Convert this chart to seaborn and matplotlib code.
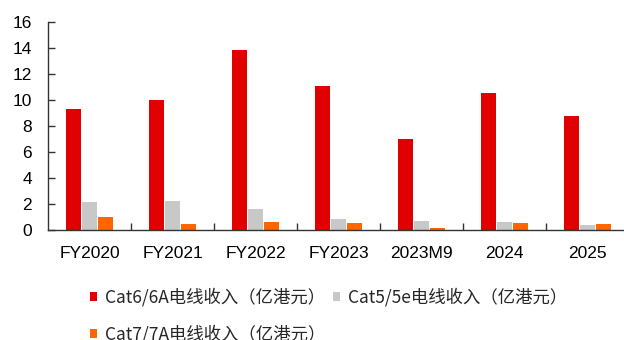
import matplotlib
matplotlib.use("Agg")
import matplotlib.pyplot as plt
import seaborn as sns
import pandas as pd
from matplotlib.patches import Patch

categories = ["FY2020", "FY2021", "FY2022", "FY2023", "2023M9", "2024", "2025"]
series_names = ["Cat6/6A电线收入（亿港元）", "Cat5/5e电线收入（亿港元）", "Cat7/7A电线收入（亿港元）"]
cat6 = [9.3, 10.0, 13.85, 11.1, 7.0, 10.54, 8.77]
cat5 = [2.18, 2.23, 1.64, 0.85, 0.69, 0.64, 0.38]
cat7 = [1.0, 0.44, 0.62, 0.54, 0.15, 0.56, 0.46]
colors = ["#E00000", "#C8C8C8", "#FF6600"]

sns.set_theme(style="white")
plt.rcParams["font.family"] = ["Liberation Sans", "Noto Sans CJK SC", "DejaVu Sans"]

rows = []
for name, vals in zip(series_names, [cat6, cat5, cat7]):
    for c, v in zip(categories, vals):
        rows.append({"period": c, "value": v, "series": name})
df = pd.DataFrame(rows)

fig = plt.figure(figsize=(6.24, 3.4), dpi=100)
ax = fig.add_axes([48 / 624, 1 - 230 / 340, (629 - 48) / 624, (230 - 22) / 340])

sns.barplot(data=df, x="period", y="value", hue="series", order=categories,
            hue_order=series_names, palette=colors, width=0.58, gap=0.06,
            saturation=1, ax=ax, legend=False, linewidth=0)

ax.set_ylim(0, 16)
ax.set_yticks(range(0, 17, 2))
ax.set_xlim(-0.5, len(categories) - 0.5)
ax.set_xlabel("")
ax.set_ylabel("")

for s in ["top", "right"]:
    ax.spines[s].set_visible(False)
for s in ["left", "bottom"]:
    ax.spines[s].set_color("#333333")
    ax.spines[s].set_linewidth(1.0)

ax.tick_params(axis="y", direction="in", length=5, width=1, color="#333333",
               labelsize=12.5, pad=11.5, left=True)
ax.tick_params(axis="x", which="major", length=0, labelsize=12.5, pad=11.7)
ax.set_xticks([i + 0.5 for i in range(len(categories) - 1)], minor=True)
ax.tick_params(axis="x", which="minor", direction="in", length=5, width=1,
               color="#333333", bottom=True)
for lab in ax.get_xticklabels() + ax.get_yticklabels():
    lab.set_color("#000000")

handles = [Patch(facecolor=c, edgecolor="none") for c in colors]
order = [0, 2, 1]  # fill row-wise: A B / C
fig.legend([handles[i] for i in order], [series_names[i] for i in order],
           ncol=2, loc="upper left",
           bbox_to_anchor=(90 / 624, 1 - 288 / 340), frameon=False,
           prop={"family": ["Noto Sans CJK SC"], "size": 12.5},
           handlelength=0.4, handleheight=0.4,
           handletextpad=0.45, columnspacing=0.45, labelspacing=1.05,
           borderaxespad=0, borderpad=0)

fig.savefig("out.png", dpi=100)
